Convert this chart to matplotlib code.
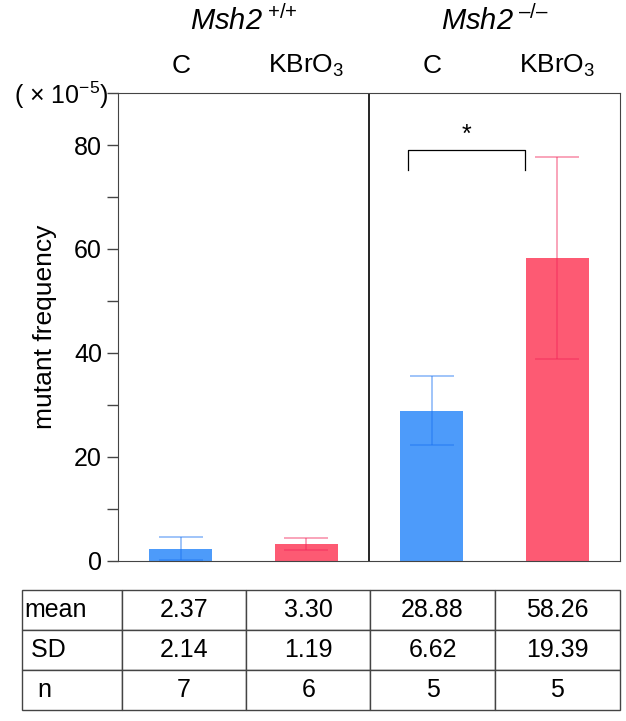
import matplotlib
matplotlib.use('Agg')
from matplotlib import pyplot as plt
import numpy as np

plt.rcParams['font.family'] = ['Liberation Sans', 'DejaVu Sans']
plt.rcParams['mathtext.fontset'] = 'custom'
plt.rcParams['mathtext.rm'] = 'Liberation Sans'
plt.rcParams['mathtext.it'] = 'Liberation Sans:italic'

groups = ['C', 'KBrO$_3$', 'C', 'KBrO$_3$']
genotypes = [r'Msh2$^{\mathrm{\ {+}/{+}}}$', 'Msh2$^{\\mathrm{\\ \u2013/\u2013}}$']
row_labels = ['mean', ' SD', '  n']
means = [2.37, 3.30, 28.88, 58.26]
sds = [2.14, 1.19, 6.62, 19.39]
ns = [7, 6, 5, 5]
colors = ['#4d9bfa', '#fd5a73', '#4d9bfa', '#fd5a73']
err_colors = [(0.1, 0.45, 0.95, 0.45), (0.95, 0.15, 0.35, 0.45),
              (0.1, 0.45, 0.95, 0.45), (0.95, 0.15, 0.35, 0.45)]

fig = plt.figure(figsize=(6.26, 7.21), dpi=100)
ax = fig.add_axes([0.1885, 0.222, 0.802, 0.649])

x = np.arange(len(means))
ax.bar(x, means, width=0.5, color=colors)
for i in range(len(means)):
    ax.errorbar(x[i], means[i], yerr=sds[i], ecolor=err_colors[i], elinewidth=1.3,
                capsize=16, capthick=1.3, fmt='none')

ax.axvline(1.5, color='black', lw=1.2)
ax.set_xlim(-0.5, 3.5)
ax.set_ylim(0, 90)
ax.set_xticks([])
ax.set_yticks([0, 20, 40, 60, 80])
ax.set_yticks([10, 30, 50, 70, 90], minor=True)
ax.tick_params(axis='y', which='both', direction='out', length=8, width=1, labelsize=18, color='#444444')
for s in ax.spines.values():
    s.set_color('#444444')
ax.set_ylabel('mutant frequency', fontsize=19, labelpad=12)

# significance bracket
bx0, bx1, by, bh = 1.81, 2.74, 79, 3.8
ax.plot([bx0, bx0, bx1, bx1], [by - bh, by, by, by - bh], color='black', lw=0.9)
ax.text((bx0 + bx1) / 2, by + 0.6, '*', ha='center', va='bottom', fontsize=18)

# headers
for i, g in enumerate(groups):
    ax.text(x[i], 95.2, g, ha='center', va='center', fontsize=19)
for j, g in enumerate(genotypes):
    ax.text(0.5 + 2 * j, 104, g, ha='center', va='center', fontsize=21, style='italic')
ax.text(-0.58, 89.5, r'( $\times$ 10$^{-5}$)', ha='right', va='center', fontsize=18)

# table
tax = fig.add_axes([0.035, 0.015, 0.955, 0.167])
tax.axis('off')
cell_text = [[row_labels[0]] + ['%.2f' % v for v in means],
             [row_labels[1]] + ['%.2f' % v for v in sds],
             [row_labels[2]] + [str(v) for v in ns]]
tbl = tax.table(cellText=cell_text, cellLoc='center', loc='center', bbox=[0, 0, 1, 1],
                colWidths=[0.167, 0.208, 0.208, 0.208, 0.209])
tbl.auto_set_font_size(False)
tbl.set_fontsize(18)
for (r, c), cell in tbl.get_celld().items():
    cell.set_edgecolor('#444444')
    cell.set_linewidth(1)
    if c == 0:
        cell.get_text().set_ha('left')
        cell.PAD = 0.02

fig.savefig('out.png', dpi=100)
